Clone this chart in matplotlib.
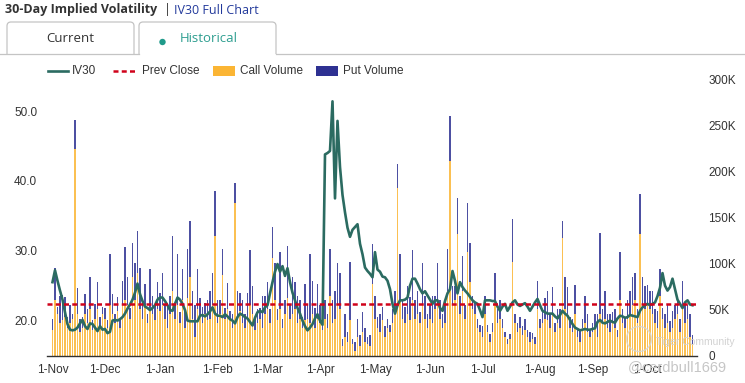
import numpy as np
import pandas as pd
import matplotlib
matplotlib.use("Agg")
import matplotlib.pyplot as plt
from matplotlib.patches import Rectangle, FancyBboxPatch, Circle
from matplotlib.lines import Line2D

# IV30 (left axis), one value per trading day from 1-Nov
iv30 = [
    # Nov
    25.5, 27.2, 25.7, 24.3, 23.0, 21.2, 19.5, 18.7, 18.6, 18.7, 19.0, 19.6, 20.1, 19.2, 18.8, 19.6, 19.5, 19.0, 18.5, 19.2, 18.7,
    # Dec
    18.8, 18.2, 18.4, 20.0, 20.1, 20.0, 20.2, 20.5, 21.0, 21.7, 22.3, 23.0, 24.0, 25.3, 23.8, 22.8, 22.0, 21.8, 21.5, 21.8, 22.2, 23.0,
    # Jan
    23.3, 23.3, 22.8, 22.2, 21.5, 21.4, 22.4, 23.3, 23.0, 22.4, 21.5, 20.0, 19.9, 19.9, 19.9, 19.9, 20.7, 20.8, 20.6, 20.9, 21.3, 21.9, 21.0,
    # Feb
    20.7, 20.7, 20.5, 20.9, 20.6, 20.2, 20.0, 19.6, 20.5, 21.0, 20.8, 20.5, 20.3, 19.8, 19.3, 20.4, 21.2, 21.4, 21.2, 21.9,
    # Mar
    22.2, 23.9, 25.5, 27.0, 28.1, 27.0, 27.8, 26.4, 27.5, 25.5, 24.0, 22.9, 21.8, 21.0, 20.0, 19.2, 18.6, 19.0, 19.5, 20.3, 20.9,
    # Apr
    20.0, 19.4, 43.8, 44.0, 44.3, 51.4, 37.5, 48.6, 42.0, 38.0, 35.5, 33.3, 32.0, 33.0, 33.4, 33.8, 31.0, 29.5, 27.6, 27.1, 26.7, 26.2,
    # May
    29.8, 27.3, 27.0, 26.3, 26.2, 25.7, 24.5, 22.4, 21.0, 22.2, 22.9, 22.9, 23.0, 23.3, 25.0, 26.0, 26.0, 25.3, 24.5, 23.9, 24.2, 23.6,
    # Jun
    23.0, 22.4, 22.9, 22.9, 21.8, 21.4, 22.8, 23.9, 24.5, 27.1, 25.7, 23.9, 25.5, 24.8, 24.3, 23.9, 23.4, 22.9, 22.6, 22.4, 21.5,
    # Jul
    20.5, 22.9, 22.9, 22.9, 22.8, 22.8, 22.0, 21.4, 22.0, 22.4, 21.4, 22.0, 22.6, 22.9, 22.3, 22.1, 22.3, 22.5, 22.0, 21.4, 22.0, 22.6, 23.1,
    # Aug
    22.2, 21.4, 21.2, 21.0, 21.0, 21.0, 20.6, 20.3, 20.8, 21.4, 21.0, 20.7, 20.1, 19.5, 19.0, 18.8, 18.6, 18.7, 18.8, 18.7, 18.7,
    # Sep
    18.8, 18.9, 19.8, 20.1, 19.7, 19.6, 19.8, 20.0, 19.8, 19.7, 20.3, 20.7, 20.6, 20.4, 20.5, 20.8, 20.7, 20.6, 20.5, 21.4, 21.9, 22.2,
    # Oct
    22.4, 22.2, 22.4, 22.6, 23.5, 24.7, 26.8, 25.0, 24.3, 24.8, 26.0, 24.5, 23.0, 22.4, 21.8, 22.6, 22.9, 22.3, 22.2,
]

# option volumes in thousands (right axis)
call_volume = [
    28, 60, 45, 35, 38, 42, 30, 35, 40, 224, 45, 25, 30, 45, 35, 50, 28, 40, 50, 32, 45,
    40, 30, 55, 45, 35, 48, 30, 55, 60, 55, 40, 85, 60, 89, 50, 40, 55, 35, 52, 45, 38, 50,
    48, 55, 40, 30, 45, 70, 40, 55, 35, 60, 30, 62, 85, 40, 20, 50, 42, 35, 45, 38, 40, 55, 130,
    35, 45, 87, 40, 50, 38, 30, 166, 40, 48, 35, 30, 40, 55, 45, 28, 35, 40, 30, 45,
    50, 35, 106, 60, 38, 50, 30, 45, 62, 40, 45, 50, 35, 40, 30, 38, 40, 35, 45, 30, 40,
    35, 28, 40, 30, 65, 35, 40, 55, 50, 10, 20, 15, 38, 12, 5, 20, 10, 25, 15, 12, 10, 78,
    40, 30, 25, 38, 20, 30, 25, 35, 45, 182, 60, 40, 35, 45, 38, 60, 40, 45, 35, 55, 40, 30,
    40, 35, 50, 55, 40, 30, 35, 70, 211, 55, 60, 132, 45, 70, 40, 112, 80, 50, 45, 30, 25,
    20, 45, 25, 15, 25, 60, 35, 40, 30, 20, 12, 18, 101, 35, 25, 30, 22, 28, 20, 15, 18, 12, 50,
    30, 35, 40, 38, 30, 45, 25, 35, 30, 128, 50, 45, 30, 25, 45, 20, 15, 30, 35, 25, 20,
    25, 30, 20, 45, 35, 40, 30, 25, 35, 30, 20, 60, 35, 30, 40, 45, 55, 60, 35, 132, 55, 50,
    55, 50, 45, 35, 30, 65, 40, 30, 35, 25, 30, 40, 45, 25, 55, 35, 40, 20, 12,
]
put_volume = [
    12, 35, 8, 30, 28, 22, 12, 20, 5, 31, 28, 15, 12, 22, 15, 35, 10, 16, 30, 10, 8,
    12, 8, 55, 22, 10, 15, 8, 26, 58, 30, 12, 37, 40, 46, 45, 20, 23, 10, 42, 20, 18, 30,
    20, 35, 15, 25, 20, 60, 15, 55, 12, 34, 20, 54, 61, 30, 35, 44, 20, 18, 12, 22, 30, 35, 49,
    25, 15, 29, 12, 29, 10, 15, 21, 30, 20, 25, 15, 28, 59, 30, 12, 15, 12, 35, 20,
    30, 15, 33, 40, 12, 62, 10, 15, 57, 15, 40, 30, 30, 20, 12, 40, 15, 75, 36, 22, 38,
    20, 8, 20, 15, 51, 25, 30, 45, 40, 8, 25, 10, 63, 6, 10, 20, 12, 22, 15, 8, 12, 43,
    25, 12, 20, 15, 12, 10, 8, 15, 25, 26, 50, 20, 18, 30, 25, 54, 20, 25, 12, 45, 25, 15,
    15, 30, 15, 45, 20, 15, 25, 46, 49, 20, 15, 39, 20, 38, 15, 54, 42, 15, 12, 10, 8,
    12, 20, 8, 8, 10, 29, 15, 20, 10, 5, 6, 5, 47, 10, 10, 12, 10, 12, 8, 10, 6, 8, 31,
    10, 12, 22, 32, 15, 29, 10, 15, 20, 18, 35, 29, 12, 15, 31, 10, 12, 10, 30, 20, 8,
    10, 15, 25, 88, 15, 30, 15, 20, 12, 20, 8, 52, 15, 12, 20, 25, 30, 29, 15, 43, 30, 25,
    22, 20, 25, 15, 18, 29, 12, 15, 20, 12, 18, 15, 20, 15, 26, 20, 15, 25, 10,
]
prev_close = 22.4
iv_ticks = [20, 30, 40, 50]
vol_ticks = [0, 50, 100, 150, 200, 250, 300]

TEAL = "#2b6b61"
RED = "#d0021b"
ORANGE = "#fbb534"
NAVY = "#2e3192"
TXT = "#333333"
SANS = "Liberation Sans"
UI = "Open Sans"

dates = pd.bdate_range("2024-11-01", periods=len(iv30))
x = np.arange(len(dates))
month_pos = [i for i in x if i == 0 or dates[i].month != dates[i - 1].month]
month_lab = [f"1-{dates[i]:%b}" for i in month_pos]

W, H = 745, 383
fig = plt.figure(figsize=(W / 100, H / 100), dpi=100)


def box(x0, y0, x1, y1):
    return [x0 / W, 1 - y1 / H, (x1 - x0) / W, (y1 - y0) / H]


ax_vol = fig.add_axes(box(47, 79, 697, 355.5))
ax_iv = ax_vol.twinx()

# thin bars, a little translucent like the web chart
ax_vol.bar(x, call_volume, width=0.5, color=ORANGE, alpha=0.85, linewidth=0)
ax_vol.bar(x, put_volume, bottom=call_volume, width=0.5, color=NAVY, alpha=0.85, linewidth=0)
ax_vol.set_ylim(0, 300)
ax_vol.set_xlim(-2.2, 257.8)
ax_vol.yaxis.tick_right()
ax_vol.set_yticks(vol_ticks)
ax_vol.set_yticklabels(["0" if v == 0 else f"{v}K" for v in vol_ticks])
ax_vol.set_xticks(month_pos)
ax_vol.set_xticklabels(month_lab)
ax_vol.tick_params(axis="y", length=0, pad=8, labelsize=8.5, labelcolor=TXT)
ax_vol.tick_params(axis="x", length=0, pad=6, labelsize=8.5, labelcolor=TXT)
for lab in ax_vol.get_xticklabels() + ax_vol.get_yticklabels():
    lab.set_fontfamily(SANS)
for s in ["top", "left", "right"]:
    ax_vol.spines[s].set_visible(False)
ax_vol.spines["bottom"].set_color("#333333")
ax_vol.spines["bottom"].set_linewidth(1.0)

ax_iv.plot(x, iv30, color=TEAL, lw=1.9, solid_joinstyle="round", zorder=3)
ax_iv.axhline(prev_close, color=RED, lw=1.8, ls=(0, (2, 1.3)), zorder=4)
ax_iv.set_ylim(15, 54.6)
ax_iv.yaxis.tick_left()
ax_iv.set_yticks(iv_ticks)
ax_iv.set_yticklabels([f"{v:.1f}" for v in iv_ticks])
ax_iv.tick_params(axis="y", length=0, pad=7, labelsize=8.5, labelcolor=TXT)
for lab in ax_iv.get_yticklabels():
    lab.set_fontfamily(SANS)
for s in ax_iv.spines.values():
    s.set_visible(False)
ax_iv.patch.set_visible(False)

# header, tabs, legend and watermark drawn in pixel coordinates
ov = fig.add_axes([0, 0, 1, 1])
ov.set_xlim(0, W)
ov.set_ylim(H, 0)
ov.axis("off")

ov.text(5, 10, "30-Day Implied Volatility", fontsize=9, fontweight="bold", color=TXT,
        family=UI, va="center")
ov.text(164, 10, "|", fontsize=9, color=TXT, family=UI, va="center")
ov.text(174, 10, "IV30 Full Chart", fontsize=9, color="#22399b", family=UI, va="center")

for x0, x1 in [(7, 134), (139, 276)]:
    ov.add_patch(FancyBboxPatch((x0, 22), x1 - x0, 45, boxstyle="round,pad=0,rounding_size=4",
                                fc="white", ec="#c4c4c4", lw=0.9))
ov.add_patch(Rectangle((0, 54.3), W, 14, fc="white", ec="none", zorder=3))
ov.add_line(Line2D([0, 139], [54, 54], color="#c4c4c4", lw=0.9, zorder=4))
ov.add_line(Line2D([276, W], [54, 54], color="#c4c4c4", lw=0.9, zorder=4))
ov.text(70.5, 39, "Current", fontsize=9.5, color=TXT, family=UI, ha="center", va="center")
ov.add_patch(Circle((162.5, 42), 3.2, fc="#1f9a8a", ec="none"))
ov.text(180, 39, "Historical", fontsize=9.5, color="#2e9e90", family=UI, va="center")

ly = 70.5
ov.add_line(Line2D([48, 68], [ly, ly], color=TEAL, lw=1.9, zorder=5))
ov.text(72, ly, "IV30", fontsize=8.5, color=TXT, family=SANS, va="center", zorder=5)
ov.add_line(Line2D([113, 136], [ly, ly], color=RED, lw=1.8, ls=(0, (2, 1.3)), zorder=5))
ov.text(142, ly, "Prev Close", fontsize=8.5, color=TXT, family=SANS, va="center", zorder=5)
ov.add_patch(Rectangle((213, 66), 22, 9.5, fc=ORANGE, ec="none", zorder=5))
ov.text(240, ly, "Call Volume", fontsize=8.5, color=TXT, family=SANS, va="center", zorder=5)
ov.add_patch(Rectangle((316, 66), 22, 9.5, fc=NAVY, ec="none", zorder=5))
ov.text(343, ly, "Put Volume", fontsize=8.5, color=TXT, family=SANS, va="center", zorder=5)

# faint watermark, as in the screenshot
ov.add_patch(Circle((639, 339), 12.5, fc="none", ec="#d6d6d6", lw=1.0, alpha=0.8))
ov.text(656, 342, "Tiger Community", fontsize=7.5, color="#d2d2d2", family=SANS, va="center")
ov.text(628, 367, "@cerdbull1669", fontsize=10.5, color="#c6c6c6", family=SANS, va="center")

fig.savefig("out.png", dpi=100)
